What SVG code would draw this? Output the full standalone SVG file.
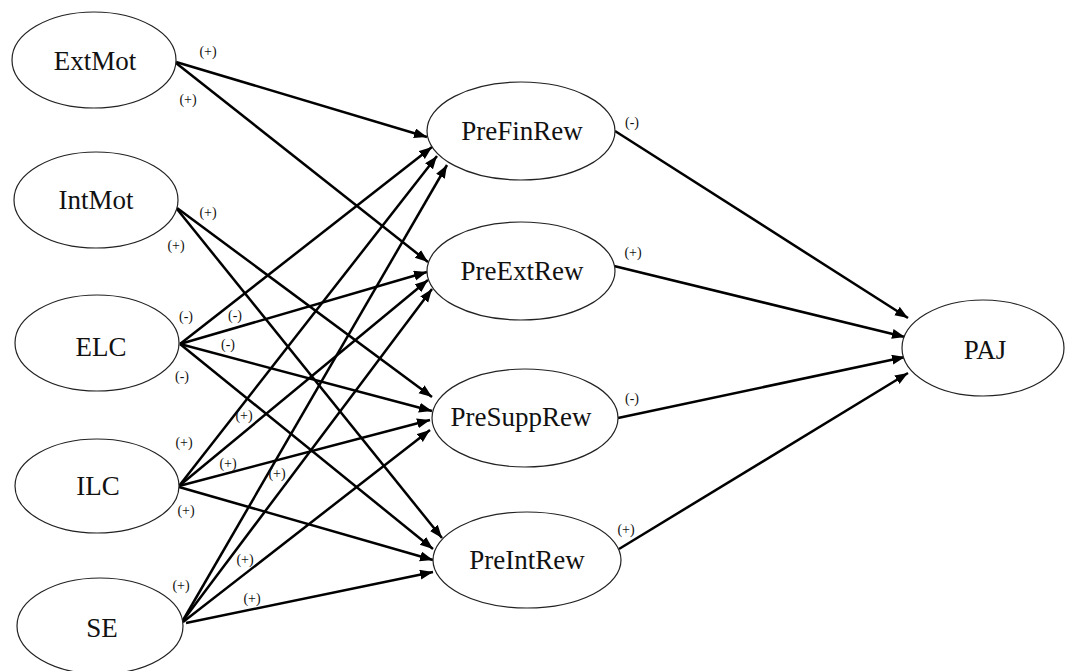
<svg xmlns="http://www.w3.org/2000/svg" width="1065" height="671" viewBox="0 0 1065 671">
<defs>
<marker id="arr" markerUnits="userSpaceOnUse" markerWidth="14" markerHeight="11" refX="13" refY="5" orient="auto">
<path d="M0,0 L13,5 L0,10 z" fill="#000"/>
</marker>
<style>
.node ellipse{fill:#fff;stroke:#222;stroke-width:1.2}
.node text{font-family:"Liberation Serif","Times New Roman",serif;font-size:27px;fill:#111;text-anchor:middle}
.edges line{stroke:#000;stroke-width:2.5;marker-end:url(#arr)}
.lbl{font-family:"Liberation Serif","Times New Roman",serif;font-size:14px;fill:#111;text-anchor:middle}
</style>
</defs>
<rect width="1065" height="671" fill="#fff"/>
<g class="edges">
<line x1="176" y1="62" x2="427" y2="137"/>
<line x1="176" y1="63" x2="428" y2="262"/>
<line x1="177" y1="208" x2="432" y2="397"/>
<line x1="177" y1="209" x2="442" y2="538"/>
<line x1="180" y1="344" x2="432" y2="147"/>
<line x1="180" y1="344" x2="427" y2="272"/>
<line x1="180" y1="344" x2="432" y2="411"/>
<line x1="180" y1="344" x2="433" y2="549"/>
<line x1="179" y1="486" x2="437" y2="156"/>
<line x1="179" y1="486" x2="428" y2="280"/>
<line x1="179" y1="486" x2="430" y2="420"/>
<line x1="179" y1="487" x2="433" y2="560"/>
<line x1="182" y1="622" x2="447" y2="165"/>
<line x1="182" y1="622" x2="432" y2="289"/>
<line x1="183" y1="622" x2="430" y2="430"/>
<line x1="186" y1="623" x2="433" y2="572"/>
<line x1="615" y1="131" x2="908" y2="318"/>
<line x1="614" y1="266" x2="905" y2="337"/>
<line x1="618" y1="418" x2="905" y2="357"/>
<line x1="619" y1="549" x2="908" y2="373"/>
</g>
<g id="labels">
<text class="lbl" x="208" y="56">(+)</text>
<text class="lbl" x="188" y="104">(+)</text>
<text class="lbl" x="208" y="217">(+)</text>
<text class="lbl" x="176" y="250">(+)</text>
<text class="lbl" x="186" y="321">(-)</text>
<text class="lbl" x="235" y="320">(-)</text>
<text class="lbl" x="228" y="349">(-)</text>
<text class="lbl" x="182" y="381">(-)</text>
<text class="lbl" x="244" y="420">(+)</text>
<text class="lbl" x="184" y="447">(+)</text>
<text class="lbl" x="228" y="468">(+)</text>
<text class="lbl" x="277" y="478">(+)</text>
<text class="lbl" x="186" y="515">(+)</text>
<text class="lbl" x="245" y="564">(+)</text>
<text class="lbl" x="181" y="590">(+)</text>
<text class="lbl" x="252" y="603">(+)</text>
<text class="lbl" x="632" y="127">(-)</text>
<text class="lbl" x="633" y="257">(+)</text>
<text class="lbl" x="632" y="403">(-)</text>
<text class="lbl" x="626" y="534">(+)</text>
</g>
<g id="ExtMot" class="node"><ellipse cx="94" cy="60" rx="82" ry="48"/><text x="95" y="70">ExtMot</text></g>
<g id="IntMot" class="node"><ellipse cx="96" cy="200" rx="82" ry="48"/><text x="96" y="209">IntMot</text></g>
<g id="ELC" class="node"><ellipse cx="97" cy="343" rx="82" ry="48"/><text x="101" y="356">ELC</text></g>
<g id="ILC" class="node"><ellipse cx="97" cy="486" rx="82" ry="47"/><text x="98" y="495">ILC</text></g>
<g id="SE" class="node"><ellipse cx="100" cy="626" rx="83" ry="48"/><text x="102" y="637">SE</text></g>
<g id="PreFinRew" class="node"><ellipse cx="521" cy="131" rx="94" ry="49"/><text x="522" y="140">PreFinRew</text></g>
<g id="PreExtRew" class="node"><ellipse cx="521" cy="271" rx="94" ry="49"/><text x="522" y="280">PreExtRew</text></g>
<g id="PreSuppRew" class="node"><ellipse cx="525" cy="418" rx="93" ry="49"/><text x="521" y="426">PreSuppRew</text></g>
<g id="PreIntRew" class="node"><ellipse cx="527" cy="560" rx="94" ry="48"/><text x="527" y="569">PreIntRew</text></g>
<g id="PAJ" class="node"><ellipse cx="983" cy="348" rx="81" ry="48"/><text x="985" y="359">PAJ</text></g>
</svg>
